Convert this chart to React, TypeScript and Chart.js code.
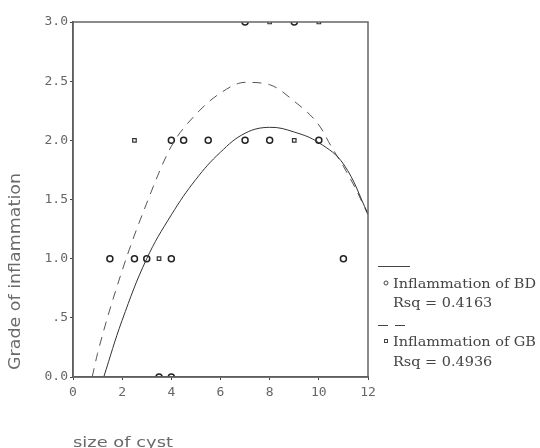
import React, { useEffect, useRef } from "react";
import { Chart, registerables } from "chart.js";

Chart.register(...registerables);

// Observed data: circles = BD, squares = GB
const bdX = [1.5, 2.5, 3, 4, 11, 4, 4.5, 5.5, 7, 8, 10, 7, 9, 3.5, 4];
const bdY = [1, 1, 1, 1, 1, 2, 2, 2, 2, 2, 2, 3, 3, 0, 0];
const gbX = [3.5, 2.5, 9, 8, 10];
const gbY = [1, 2, 2, 3, 3];

// Fitted curves
const bdFitX = [1.25, 2, 3, 4, 5, 6, 7, 8, 9, 10, 11, 12];
const bdFitY = [0, 0.48, 1.0, 1.37, 1.67, 1.9, 2.06, 2.11, 2.07, 1.98, 1.8, 1.38];
const gbFitX = [0.78, 1, 2, 3, 4, 5, 6, 7, 8, 9, 10, 10.5, 11, 11.5, 12];
const gbFitY = [0, 0.2, 0.9, 1.47, 1.95, 2.22, 2.4, 2.49, 2.47, 2.33, 2.13, 1.95, 1.78, 1.59, 1.37];

const xTicks = [0, 2, 4, 6, 8, 10, 12];
const yTicks = [0, 0.5, 1, 1.5, 2, 2.5, 3];
const yTickLabels = ["0.0", ".5", "1.0", "1.5", "2.0", "2.5", "3.0"];

const xTitle = "size of cyst";
const yTitle = "Grade of inflammation";
const legendBD = "Inflammation of BD";
const legendBDRsq = "Rsq = 0.4163";
const legendGB = "Inflammation of GB";
const legendGBRsq = "Rsq = 0.4936";

const zip = (xs: number[], ys: number[]) => xs.map((x, i) => ({ x, y: ys[i] }));

function drawStretched(ctx: CanvasRenderingContext2D, text: string, x: number, y: number, sx: number) {
  ctx.save();
  ctx.translate(x, y);
  ctx.scale(sx, 1);
  ctx.fillText(text, 0, 0);
  ctx.restore();
}

export default function App() {
  const ref = useRef<HTMLCanvasElement | null>(null);

  useEffect(() => {
    const canvas = ref.current;
    if (!canvas) return;

    const decor = {
      id: "decor",
      afterDraw(chart: any) {
        const ctx = chart.ctx;
        const a = chart.chartArea;
        ctx.save();
        // box border
        ctx.strokeStyle = "#666";
        ctx.lineWidth = 1.5;
        ctx.strokeRect(a.left, a.top, a.right - a.left, a.bottom - a.top);

        // axis titles
        ctx.fillStyle = "#6a6a6a";
        ctx.textAlign = "left";
        ctx.textBaseline = "middle";
        ctx.font = "14px 'DejaVu Sans'";
        drawStretched(ctx, xTitle, 73, 443, 100 / ctx.measureText(xTitle).width);
        ctx.save();
        ctx.translate(16, 370);
        ctx.rotate(-Math.PI / 2);
        ctx.font = "15px 'DejaVu Sans'";
        drawStretched(ctx, yTitle, 0, 0, 197 / ctx.measureText(yTitle).width);
        ctx.restore();

        // legend
        ctx.strokeStyle = "#444";
        ctx.lineWidth = 1;
        ctx.beginPath();
        ctx.moveTo(378, 266.5);
        ctx.lineTo(410, 266.5);
        ctx.stroke();
        ctx.beginPath();
        ctx.setLineDash([10, 7]);
        ctx.moveTo(378, 325.5);
        ctx.lineTo(406, 325.5);
        ctx.stroke();
        ctx.setLineDash([]);

        ctx.beginPath();
        ctx.arc(386, 283, 2, 0, Math.PI * 2);
        ctx.stroke();
        ctx.strokeRect(384.5, 339.5, 3, 3);

        ctx.fillStyle = "#444";
        ctx.font = "13px 'DejaVu Serif'";
        ctx.textAlign = "left";
        ctx.textBaseline = "middle";
        const sx = 143 / ctx.measureText(legendBD).width;
        drawStretched(ctx, legendBD, 393, 285, sx);
        drawStretched(ctx, legendBDRsq, 393, 304, sx);
        drawStretched(ctx, legendGB, 393, 343, sx);
        drawStretched(ctx, legendGBRsq, 393, 363, sx);
        ctx.restore();
      },
    };

    const chart = new Chart(canvas, {
      type: "scatter",
      data: {
        datasets: [
          {
            label: "BD fit",
            data: zip(bdFitX, bdFitY),
            showLine: true,
            borderColor: "#333",
            borderWidth: 1,
            pointRadius: 0,
            tension: 0.4,
            fill: false,
          },
          {
            label: "GB fit",
            data: zip(gbFitX, gbFitY),
            showLine: true,
            borderColor: "#555",
            borderWidth: 1,
            borderDash: [9, 7],
            pointRadius: 0,
            cubicInterpolationMode: "monotone",
            fill: false,
          },
          {
            label: "BD",
            data: zip(bdX, bdY),
            pointStyle: "circle",
            pointRadius: 3,
            borderColor: "#222",
            backgroundColor: "rgba(255,255,255,0)",
            borderWidth: 1.5,
          },
          {
            label: "GB",
            data: zip(gbX, gbY),
            pointStyle: "rect",
            pointRadius: 2.5,
            borderColor: "#333",
            backgroundColor: "rgba(255,255,255,0)",
            borderWidth: 1.2,
          },
        ],
      },
      options: {
        animation: false,
        responsive: false,
        maintainAspectRatio: false,
        layout: { padding: { left: 0, top: 22, right: 172, bottom: 0 } },
        plugins: { legend: { display: false }, tooltip: { enabled: false } },
        scales: {
          x: {
            type: "linear",
            min: 0,
            max: 12,
            afterFit(scale: any) {
              scale.height = 71;
            },
            afterBuildTicks(scale: any) {
              scale.ticks = xTicks.map((v) => ({ value: v }));
            },
            ticks: {
              color: "#666",
              font: { family: "DejaVu Sans Mono", size: 13 },
              padding: 5,
              maxRotation: 0,
              callback: (v: any) => String(v),
            },
            grid: { display: true, drawOnChartArea: false, tickLength: 3, color: "#444" },
            border: { display: true, color: "#444", width: 1.5 },
          },
          y: {
            type: "linear",
            min: 0,
            max: 3,
            afterFit(scale: any) {
              scale.width = 73;
            },
            afterBuildTicks(scale: any) {
              scale.ticks = yTicks.map((v) => ({ value: v }));
            },
            ticks: {
              color: "#666",
              font: { family: "DejaVu Sans Mono", size: 13 },
              padding: 2,
              callback: (v: any) => {
                const i = yTicks.indexOf(Number(v));
                return i >= 0 ? yTickLabels[i] : "";
              },
            },
            grid: { display: true, drawOnChartArea: false, tickLength: 3, color: "#444" },
            border: { display: true, color: "#444", width: 1.5 },
          },
        },
      },
      plugins: [decor],
    } as any);

    return () => chart.destroy();
  }, []);

  return (
    <div style={{ position: "fixed", left: 0, top: 0, width: 540, height: 448, background: "#fff" }}>
      <canvas ref={ref} width={540} height={448} style={{ width: 540, height: 448, display: "block" }} />
    </div>
  );
}
